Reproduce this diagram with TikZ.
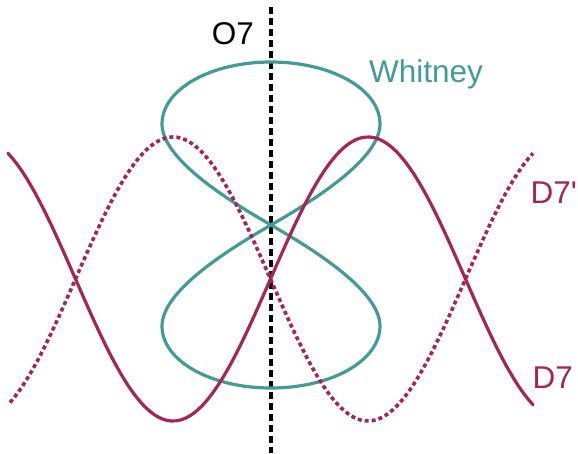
\documentclass[tikz,border=0pt]{standalone}
\usepackage{fontspec}
\setmainfont{Liberation Sans}
\usetikzlibrary{positioning}
\definecolor{whitneyteal}{RGB}{66,155,151}
\definecolor{branecrimson}{RGB}{166,36,86}
\tikzset{
  whitney curve/.style={
    color=whitneyteal,
    line width=3.2pt,      % loop thickness
  },
  brane curve/.style={
    color=branecrimson,
    line width=3.2pt,      % sine thickness
  },
  label text/.style={font=\fontsize{31.5}{36}\selectfont, inner sep=0pt},
}

\begin{document}
\begin{tikzpicture}[x=1pt, y=-1pt]
    \useasboundingbox (0,0) rectangle (578,453);
    % Sine parameters (centre line, amplitude, half period)
    \def\sinemid{279}
    \def\sineamp{142}
    \def\sinehalf{195}

    % Orientifold plane
    \draw[line width=3.5pt, dash pattern=on 7pt off 4pt] (271,7) -- (271,453);
    \node[label text, anchor=base east] (o7) at (254,44) {O7};

    % Whitney figure eight, crossing at (271,225)
    \draw[whitney curve] (271,225)
      .. controls (227.7,200) and (162,159) .. (162,124)
      .. controls (162,89) and (211,62) .. (271,62)
      .. controls (331,62) and (380,89) .. (380,124)
      .. controls (380,159) and (314.3,200) .. (271,225)
      .. controls (227.7,250) and (162,291) .. (162,326)
      .. controls (162,361) and (211,388) .. (271,388)
      .. controls (331,388) and (380,361) .. (380,326)
      .. controls (380,291) and (314.3,250) .. (271,225) -- cycle;
    \node[label text, text=whitneyteal, anchor=base west] (whitney) at (369,82) {Whitney};

    % D7 brane and its image
    \draw[brane curve, line cap=round, domain=8:533, samples=120, smooth]
      plot (\x, {\sinemid-\sineamp*sin((\x-270.5)/\sinehalf*180)});
    \draw[brane curve, line width=3.6pt, dash pattern=on 4pt off 3pt, domain=10:533, samples=120, smooth]
      plot (\x, {\sinemid+\sineamp*sin((\x-270.5)/\sinehalf*180)});
    \node[label text, text=branecrimson, anchor=base west] (d7p) at (530.5,203) {D7\textquotesingle};
    \node[label text, text=branecrimson, anchor=base west] (d7) at (532.5,388) {D7};
\end{tikzpicture}
\end{document}
